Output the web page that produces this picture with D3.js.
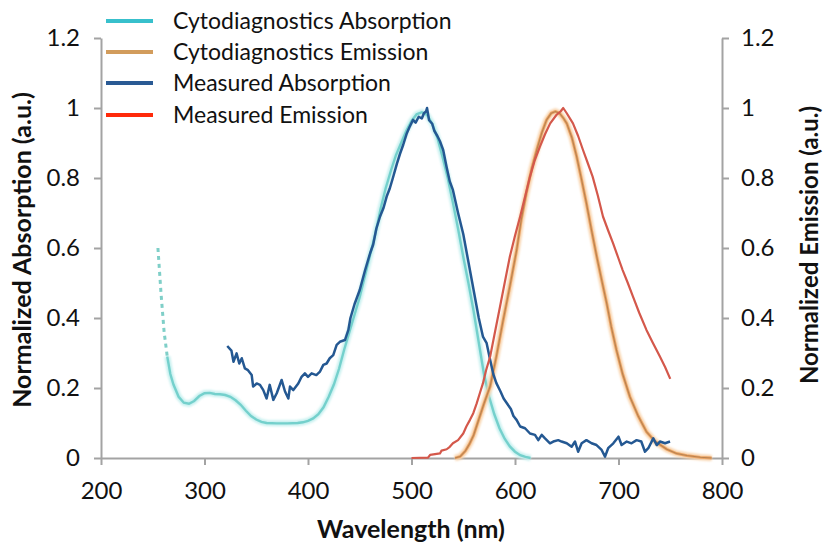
<!DOCTYPE html>
<html>
<head>
<meta charset="utf-8">
<script src="https://cdn.jsdelivr.net/npm/d3@7"></script>
<style>
  html, body { margin: 0; padding: 0; background: #ffffff; }
  svg { display: block; font-family: Lato, "Open Sans", sans-serif; }
</style>
</head>
<body>
<svg id="chart" width="825" height="547"></svg>
<script>
// ---------- DATA ----------
const seriesNames = ["Cytodiagnostics Absorption", "Cytodiagnostics Emission", "Measured Absorption", "Measured Emission"];
const xTicks = [200, 300, 400, 500, 600, 700, 800];
const yTicks = [0, 0.2, 0.4, 0.6, 0.8, 1, 1.2];
const yTickLabels = ["0", "0.2", "0.4", "0.6", "0.8", "1", "1.2"];

// Cytodiagnostics Absorption (wavelength nm, normalized)
const cytoAbsWl = [255, 258, 261, 264, 267, 270, 275, 280, 285, 290, 295, 300, 305, 310, 315, 320, 325, 330, 335, 340, 345, 350, 355, 360, 370, 380, 390, 395, 400, 405, 410, 415, 420, 425, 430, 435, 440, 445, 450, 455, 460, 465, 470, 475, 480, 485, 490, 495, 500, 505, 510, 515, 520, 525, 530, 535, 540, 545, 550, 555, 560, 565, 570, 575, 580, 585, 590, 595, 600, 605, 610, 615];
const cytoAbsVal = [0.60, 0.47, 0.36, 0.29, 0.24, 0.21, 0.175, 0.158, 0.155, 0.163, 0.177, 0.185, 0.186, 0.183, 0.182, 0.180, 0.175, 0.165, 0.152, 0.135, 0.12, 0.11, 0.103, 0.100, 0.099, 0.099, 0.100, 0.102, 0.106, 0.113, 0.125, 0.145, 0.175, 0.21, 0.255, 0.31, 0.36, 0.41, 0.46, 0.52, 0.58, 0.64, 0.71, 0.77, 0.82, 0.865, 0.9, 0.935, 0.963, 0.982, 0.988, 0.98, 0.955, 0.915, 0.86, 0.80, 0.73, 0.655, 0.575, 0.50, 0.42, 0.33, 0.24, 0.175, 0.125, 0.085, 0.055, 0.033, 0.018, 0.008, 0.003, 0.0];
const cytoAbsDashedCount = 3; // first points drawn dashed

// Cytodiagnostics Emission
const cytoEmWl = [542, 547, 552, 556, 560, 565, 570, 576, 582, 588, 595, 601.6, 606, 611, 616, 621, 626, 630.5, 635, 639, 643, 647, 650, 655, 659.6, 664, 669, 674, 679, 684, 688.6, 693, 698, 704, 711, 719, 727, 735, 746.6, 756, 766, 779, 790];
const cytoEmVal = [0, 0.004, 0.02, 0.04, 0.065, 0.11, 0.155, 0.205, 0.29, 0.385, 0.49, 0.594, 0.68, 0.757, 0.825, 0.88, 0.93, 0.966, 0.985, 0.99, 0.985, 0.97, 0.956, 0.915, 0.861, 0.80, 0.728, 0.65, 0.575, 0.505, 0.442, 0.375, 0.309, 0.24, 0.175, 0.12, 0.075, 0.048, 0.025, 0.013, 0.007, 0.002, 0];

// Measured Absorption
const measAbsWl = [322, 326, 328, 331, 333.6, 336, 339, 342, 345.6, 347, 350.4, 353.6, 356.8, 360, 363, 366.5, 369.8, 374.5, 377.8, 381, 382.6, 385.8, 390.6, 393.8, 397, 400, 403.5, 408, 411.6, 414.8, 418, 421, 424.4, 427.7, 430.8, 435.7, 439, 441, 445, 450, 455, 460, 463, 466, 469.6, 473, 476, 479, 482, 486, 489, 492, 495.5, 498, 501.5, 504, 507, 510, 512, 514, 515, 517, 520, 522, 525, 527.5, 530.6, 534, 537, 540, 545, 550, 555, 560, 565, 569, 572.6, 576, 579, 582, 586, 589, 592, 596, 598.5, 601.5, 605, 609.7, 614.5, 619.3, 622.5, 625.8, 629, 633.8, 637, 641.8, 645, 650, 654.7, 658, 661, 664.4, 669, 674, 678.8, 683.7, 687, 690, 695, 700, 703, 708, 712.6, 717.5, 722, 725.6, 728.8, 733.6, 737, 740, 745, 749.8];
const measAbsVal = [0.32, 0.307, 0.275, 0.299, 0.27, 0.285, 0.256, 0.251, 0.237, 0.204, 0.213, 0.209, 0.194, 0.17, 0.209, 0.166, 0.185, 0.223, 0.19, 0.17, 0.204, 0.194, 0.213, 0.232, 0.242, 0.232, 0.242, 0.237, 0.247, 0.266, 0.27, 0.285, 0.294, 0.323, 0.332, 0.337, 0.366, 0.40, 0.44, 0.48, 0.535, 0.585, 0.61, 0.655, 0.69, 0.715, 0.747, 0.77, 0.80, 0.842, 0.87, 0.895, 0.928, 0.945, 0.966, 0.958, 0.975, 0.97, 0.985, 0.99, 1.0, 0.965, 0.955, 0.935, 0.92, 0.905, 0.88, 0.83, 0.79, 0.766, 0.70, 0.64, 0.56, 0.48, 0.40, 0.347, 0.328, 0.28, 0.24, 0.214, 0.19, 0.17, 0.157, 0.14, 0.12, 0.109, 0.09, 0.085, 0.07, 0.066, 0.051, 0.066, 0.056, 0.042, 0.047, 0.051, 0.047, 0.042, 0.032, 0.047, 0.018, 0.042, 0.051, 0.042, 0.037, 0.023, 0.004, 0.028, 0.042, 0.061, 0.037, 0.047, 0.042, 0.051, 0.047, 0.018, 0.028, 0.056, 0.037, 0.047, 0.042, 0.047];

// Measured Emission
const measEmWl = [500, 516, 518, 527.5, 529, 534, 537, 540, 545, 550, 553, 556.5, 559.7, 563, 566, 569, 572, 576, 580, 585.5, 590, 595, 600, 605, 610, 614.5, 619, 624, 629, 634, 640, 644, 646.6, 650, 656, 661, 665.7, 670, 675, 680, 685, 690, 694.7, 700, 704, 709, 714, 720, 727, 733, 740, 745, 750];
const measEmVal = [0, 0.001, 0.009, 0.013, 0.021, 0.025, 0.032, 0.042, 0.051, 0.07, 0.09, 0.109, 0.128, 0.156, 0.185, 0.213, 0.25, 0.29, 0.35, 0.432, 0.5, 0.575, 0.635, 0.69, 0.75, 0.804, 0.85, 0.889, 0.925, 0.956, 0.98, 0.99, 1.0, 0.985, 0.956, 0.92, 0.88, 0.845, 0.804, 0.75, 0.69, 0.65, 0.614, 0.57, 0.537, 0.5, 0.461, 0.415, 0.366, 0.33, 0.29, 0.26, 0.226];

// ---------- CHART ----------
const svg = d3.select("#chart");
const x = d3.scaleLinear().domain([200, 800]).range([101, 722]);
const yL = d3.scaleLinear().domain([0, 1.2]).range([458, 38]);
const yR = d3.scaleLinear().domain([0, 1.2]).range([458, 38]);

const axisColor = "#a3a3a3";
const textColor = "#111111";

function styleAxis(g) {
  g.selectAll(".domain").attr("stroke", axisColor).attr("stroke-width", 2);
  g.selectAll(".tick line").attr("stroke", axisColor).attr("stroke-width", 2);
  g.selectAll(".tick text").attr("fill", textColor).style("font-size", "24px").style("font-family", "Lato, 'Open Sans', sans-serif");
}

// x axis
const gx = svg.append("g").attr("transform", "translate(0,458)")
  .call(d3.axisBottom(x).tickValues(xTicks).tickFormat(d3.format("d")).tickSizeOuter(0).tickSizeInner(7).tickPadding(17));
styleAxis(gx);

// left y axis
const gyl = svg.append("g").attr("transform", "translate(101,0)")
  .call(d3.axisLeft(yL).tickValues(yTicks).tickFormat((d, i) => yTickLabels[i]).tickSizeOuter(0).tickSizeInner(7).tickPadding(14));
styleAxis(gyl);

// right y axis
const gyr = svg.append("g").attr("transform", "translate(722,0)")
  .call(d3.axisRight(yR).tickValues(yTicks).tickFormat((d, i) => yTickLabels[i]).tickSizeOuter(0).tickSizeInner(7).tickPadding(12));
styleAxis(gyr);

// axis titles
svg.append("text").attr("x", 411).attr("y", 538).attr("text-anchor", "middle")
  .style("font-size", "25px").style("font-weight", "bold").attr("fill", textColor).text("Wavelength (nm)");
svg.append("text").attr("transform", "translate(31,250) rotate(-90)").attr("text-anchor", "middle")
  .style("font-size", "25px").style("font-weight", "bold").attr("fill", textColor).text("Normalized Absorption (a.u.)");
svg.append("text").attr("transform", "translate(818,245) rotate(-90)").attr("text-anchor", "middle")
  .style("font-size", "24px").style("font-weight", "bold").attr("fill", textColor).text("Normalized Emission (a.u.)");

// lines
const lineL = d3.line().x(d => x(d[0])).y(d => yL(d[1]));
const lineR = d3.line().x(d => x(d[0])).y(d => yR(d[1]));

const cytoAbs = d3.zip(cytoAbsWl, cytoAbsVal);
const cytoEm = d3.zip(cytoEmWl, cytoEmVal);
const measAbs = d3.zip(measAbsWl, measAbsVal);
const measEm = d3.zip(measEmWl, measEmVal);

const defs = svg.append("defs");
defs.append("filter").attr("id", "soft").attr("x", "-5%").attr("y", "-5%").attr("width", "110%").attr("height", "110%")
  .append("feGaussianBlur").attr("stdDeviation", 1.2);

// Cytodiagnostics absorption: soft cyan
const cyDashed = cytoAbs.slice(0, cytoAbsDashedCount + 1);
const cySolid = cytoAbs.slice(cytoAbsDashedCount);
svg.append("path").attr("d", lineL(cySolid)).attr("fill", "none").attr("stroke", "#c6f0ef").attr("stroke-width", 6).attr("filter", "url(#soft)");
svg.append("path").attr("d", lineL(cySolid)).attr("fill", "none").attr("stroke", "#74d0cc").attr("stroke-width", 2.4);
svg.append("path").attr("d", lineL(cyDashed)).attr("fill", "none").attr("stroke", "#7fcfc8").attr("stroke-width", 3).attr("stroke-dasharray", "4,4");

// Cytodiagnostics emission: soft orange
svg.append("path").attr("d", lineR(cytoEm)).attr("fill", "none").attr("stroke", "#f8d2aa").attr("stroke-width", 6).attr("filter", "url(#soft)");
svg.append("path").attr("d", lineR(cytoEm)).attr("fill", "none").attr("stroke", "#e9a263").attr("stroke-width", 2.8);
svg.append("path").attr("d", lineR(cytoEm)).attr("fill", "none").attr("stroke", "#b98250").attr("stroke-width", 1.1);

// Measured absorption
svg.append("path").attr("d", lineL(measAbs)).attr("fill", "none").attr("stroke", "#245892").attr("stroke-width", 2.5).attr("stroke-linejoin", "round");

// Measured emission
svg.append("path").attr("d", lineR(measEm)).attr("fill", "none").attr("stroke", "#d4584b").attr("stroke-width", 2.2).attr("stroke-linejoin", "round");

// legend
const legendColors = ["#38c0cc", "#d29c5c", "#2a5a94", "#ff2a0a"];
const legendY = [21, 52, 83, 115];
const lg = svg.append("g");
seriesNames.forEach((name, i) => {
  lg.append("line").attr("x1", 106).attr("x2", 153).attr("y1", legendY[i]).attr("y2", legendY[i])
    .attr("stroke", legendColors[i]).attr("stroke-width", 4);
  lg.append("text").attr("x", 173).attr("y", legendY[i] + 8).style("font-size", "23px").attr("fill", textColor).text(name);
});
</script>
</body>
</html>
